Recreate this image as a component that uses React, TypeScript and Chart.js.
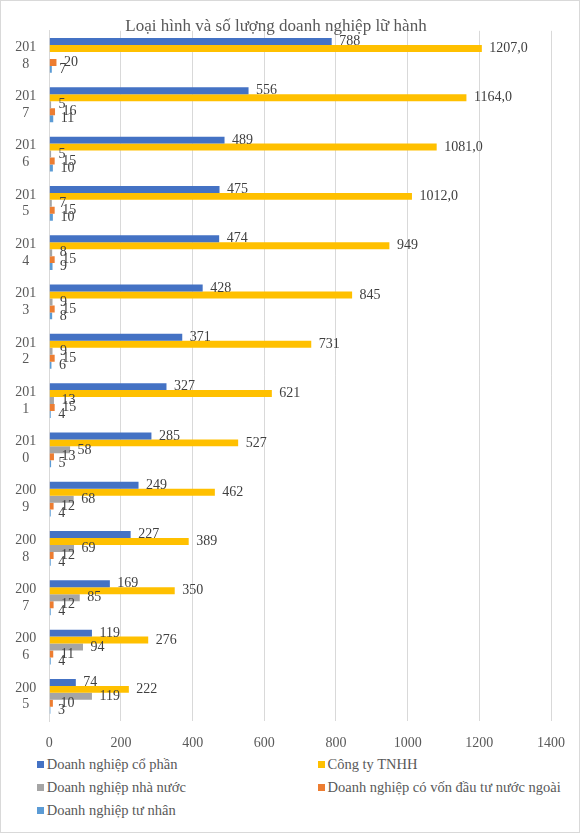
import { useEffect, useRef } from 'react';
import Chart from 'chart.js/auto';

// years top to bottom, as in the picture
const years = ['2018', '2017', '2016', '2015', '2014', '2013', '2012', '2011', '2010', '2009', '2008', '2007', '2006', '2005'];
const coPhan = [788, 556, 489, 475, 474, 428, 371, 327, 285, 249, 227, 169, 119, 74];
const tnhh = [1207, 1164, 1081, 1012, 949, 845, 731, 621, 527, 462, 389, 350, 276, 222];
const nhaNuoc = [null, 5, 5, 7, 8, 9, 9, 13, 58, 68, 69, 85, 94, 119];
const vonNuocNgoai = [20, 16, 15, 15, 15, 15, 15, 15, 13, 12, 12, 12, 11, 10];
const tuNhan = [7, 11, 10, 10, 9, 8, 6, 4, 5, 4, 4, 4, 4, 3];
const xTicks = [0, 200, 400, 600, 800, 1000, 1200, 1400];

const seriesNames = [
  'Doanh nghiệp cổ phần',
  'Công ty TNHH',
  'Doanh nghiệp nhà nước',
  'Doanh nghiệp có vốn đầu tư nước ngoài',
  'Doanh nghiệp tư nhân',
];
const seriesColors = ['#4472C4', '#FFC000', '#A5A5A5', '#ED7D31', '#5B9BD5'];
const seriesData = [coPhan, tnhh, nhaNuoc, vonNuocNgoai, tuNhan];

const FONT = '"Liberation Serif", "Times New Roman", serif';

const barLabels = {
  id: 'barLabels',
  afterDatasetsDraw(chart: any) {
    const { ctx } = chart;
    ctx.save();
    ctx.font = `14px ${FONT}`;
    ctx.fillStyle = '#404040';
    ctx.textBaseline = 'middle';
    ctx.textAlign = 'left';
    chart.data.datasets.forEach((ds: any, i: number) => {
      const meta = chart.getDatasetMeta(i);
      meta.data.forEach((bar: any, j: number) => {
        const v = ds.data[j];
        if (v == null) return;
        // TNHH labels above 1000 carry one decimal in the source ("1207,0")
        const txt = i === 1 && v >= 1000 ? v.toFixed(1).replace('.', ',') : String(v);
        ctx.fillText(txt, bar.x + 7.5, bar.y);
      });
    });
    ctx.restore();
  },
};

const BusinessChart = () => {
  const chartRef = useRef<HTMLCanvasElement>(null);

  useEffect(() => {
    const ctx = chartRef.current?.getContext('2d');
    if (!ctx) return;

    const chartInstance = new Chart(ctx, {
      type: 'bar',
      data: {
        labels: years,
        datasets: seriesNames.map((name, i) => ({
          label: name,
          data: seriesData[i],
          backgroundColor: seriesColors[i],
          borderWidth: 0,
          categoryPercentage: 0.706,
          barPercentage: 1,
        })),
      },
      options: {
        indexAxis: 'y',
        animation: false,
        responsive: true,
        maintainAspectRatio: false,
        layout: { padding: { top: 0, bottom: 0, left: 0, right: 28 } },
        plugins: {
          legend: { display: false },
          tooltip: { enabled: false },
          title: {
            display: true,
            text: 'Loại hình và số lượng doanh nghiệp lữ hành',
            color: '#595959',
            font: { family: FONT, size: 17, weight: 'normal', lineHeight: '9.5px' },
            padding: { top: 17, bottom: 0 },
          },
        },
        scales: {
          x: {
            min: 0,
            max: 1400,
            afterBuildTicks: (scale: any) => {
              scale.ticks = xTicks.map((v) => ({ value: v }));
            },
            afterFit: (scale: any) => {
              scale.height = 32;
            },
            ticks: {
              color: '#595959',
              font: { family: FONT, size: 14 },
              padding: 14,
              callback: (v: any) => String(v),
            },
            grid: { color: '#d9d9d9', drawTicks: false },
            border: { display: false },
          },
          y: {
            afterFit: (scale: any) => {
              scale.width = 48.3;
            },
            ticks: {
              autoSkip: false,
              color: '#595959',
              font: { family: FONT, size: 14, lineHeight: 1.2 },
              crossAlign: 'center',
              padding: 13,
              callback: (_v: any, i: number) => [years[i].slice(0, 3), years[i].slice(3)],
            },
            grid: { display: false, drawTicks: false },
            border: { display: true, color: '#d9d9d9' },
          },
        },
      },
      plugins: [barLabels],
    });

    return () => chartInstance.destroy();
  }, []);

  return (
    <div
      style={{
        position: 'absolute',
        left: 0,
        top: 0,
        width: 580,
        height: 833,
        boxSizing: 'border-box',
        border: '1px solid #d9d9d9',
        background: '#ffffff',
        fontFamily: FONT,
      }}
    >
      <div style={{ position: 'absolute', left: 0, top: 0, width: 578, height: 752 }}>
        <canvas ref={chartRef} />
      </div>
      {/* Legend: two columns like the Excel original */}
      {seriesNames.map((name, i) => (
        <div
          key={name}
          style={{
            position: 'absolute',
            left: i % 2 === 0 ? 35.7 : 316.5,
            top: 764 - 1 - 10 + Math.floor(i / 2) * 23,
            height: 20,
            display: 'flex',
            alignItems: 'center',
            fontSize: 14.5,
            color: '#595959',
            whiteSpace: 'nowrap',
          }}
        >
          <span style={{ display: 'inline-block', width: 7, height: 7, background: seriesColors[i], marginRight: 3 }} />
          <span>{name}</span>
        </div>
      ))}
    </div>
  );
};

export default BusinessChart;
